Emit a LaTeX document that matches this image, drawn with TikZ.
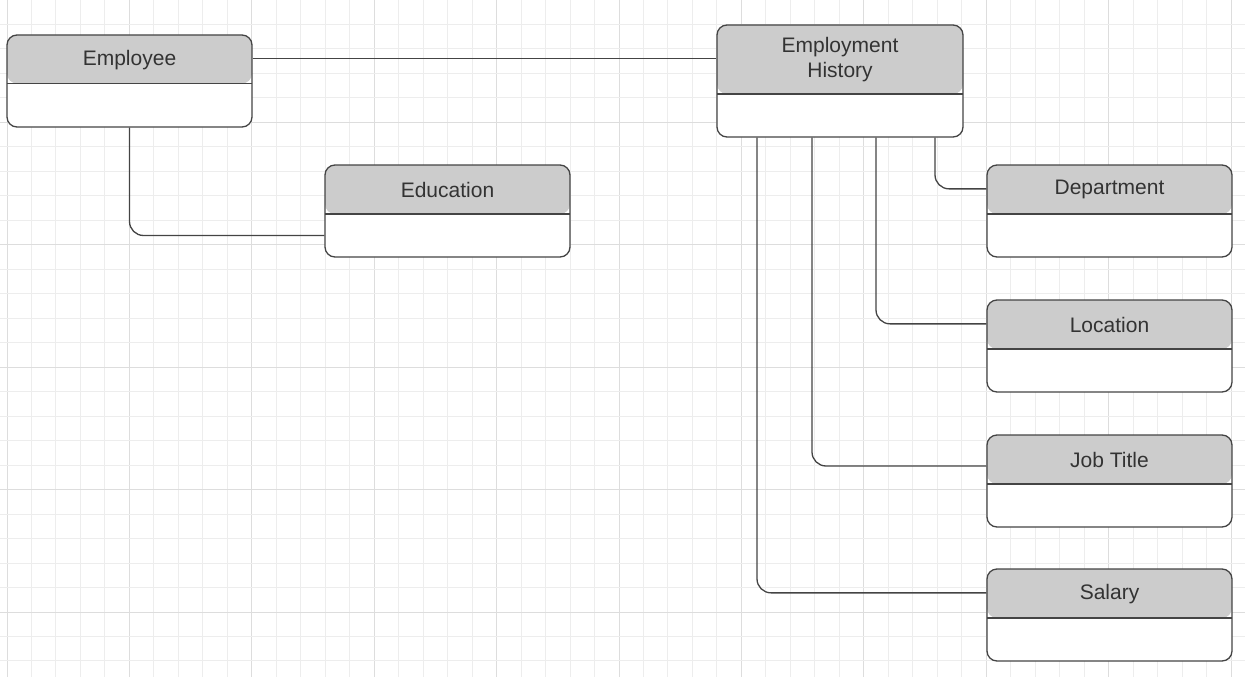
\documentclass[tikz,border=0pt]{standalone}
\usepackage{fontspec}
\setmainfont{Liberation Sans}

\definecolor{minorgrid}{HTML}{EDEDED}
\definecolor{majorgrid}{HTML}{DDDDDD}
\definecolor{headfill}{HTML}{CCCCCC}
\definecolor{boxline}{HTML}{444444}
\definecolor{textgray}{HTML}{333333}

\begin{document}
\begin{tikzpicture}[x=1pt,y=-1pt,
  entity/.style={draw=boxline, fill=white, line width=1.3pt, rounded corners=10pt,
    minimum width=245pt, minimum height=92pt, inner sep=0pt,
    path picture={
      \fill[headfill] (path picture bounding box.north west) rectangle ([yshift=-#1]path picture bounding box.north east);
      \draw[boxline, line width=1.3pt] ([yshift=-#1]path picture bounding box.north west) -- ([yshift=-#1]path picture bounding box.north east);
    }},
  title/.style={text=textgray, font=\fontsize{21}{25}\selectfont, align=center, inner sep=0pt},
  link/.style={draw=boxline, line width=1.3pt, rounded corners=14pt}]
\useasboundingbox (0,0) rectangle (1245,677);

% grid
\foreach \k in {0,...,50} {
  \pgfmathtruncatemacro{\m}{mod(\k,5)}
  \ifnum\m=0 \def\gc{majorgrid}\else\def\gc{minorgrid}\fi
  \draw[\gc, line width=1pt] ({7+24.48*\k},0) -- ({7+24.48*\k},677);
}
\foreach \k in {0,...,27} {
  \pgfmathtruncatemacro{\m}{mod(\k,5)}
  \ifnum\m=0 \def\gc{majorgrid}\else\def\gc{minorgrid}\fi
  \draw[\gc, line width=1pt] (0,{24.48*\k}) -- (1245,{24.48*\k});
}

% boxes
\coordinate (emp-c) at (129.5,81);
\coordinate (edu-c) at (447.5,211);
\coordinate (hist-c) at (840,81);
\coordinate (dept-c) at (1109.5,211);
\coordinate (loc-c) at (1109.5,346);
\coordinate (job-c) at (1109.5,481);
\coordinate (sal-c) at (1109.5,615);

\path (emp-c) node[entity=48.5pt] (emp) {};
\path (edu-c) node[entity=49pt] (edu) {};
\path (hist-c) node[entity=69pt, minimum width=246pt, minimum height=112pt] (hist) {};
\path (dept-c) node[entity=49pt] (dept) {};
\path (loc-c) node[entity=49pt] (loc) {};
\path (job-c) node[entity=49pt] (job) {};
\path (sal-c) node[entity=49pt] (sal) {};

\node[title] (emp-t) at ([yshift=-25.5pt]emp.north) {Employee};
\node[title] (edu-t) at ([yshift=-25.5pt]edu.north) {Education};
\node[title] (hist-t) at ([yshift=-35pt]hist.north) {Employment\\History};
\node[title] (dept-t) at ([yshift=-25.5pt]dept.north) {Department};
\node[title] (loc-t) at ([yshift=-25.5pt]loc.north) {Location};
\node[title] (job-t) at ([yshift=-25.5pt]job.north) {Job Title};
\node[title] (sal-t) at ([yshift=-25.5pt]sal.north) {Salary};

% links
\draw[link] ([yshift=-24pt]emp.north east) -- ([yshift=-24pt]emp.north east -| hist.west);
\draw[link] (emp.south) |- ([yshift=-24.5pt]edu.west);
\draw[link] ([xshift=95pt]hist.south) |- ([yshift=-24.5pt]dept.north west);
\draw[link] ([xshift=36pt]hist.south) |- ([yshift=-24.5pt]loc.north west);
\draw[link] ([xshift=-28pt]hist.south) |- ([yshift=15pt]job.west);
\draw[link] ([xshift=-83pt]hist.south) |- ([yshift=-24.5pt]sal.north west);

\end{tikzpicture}
\end{document}
